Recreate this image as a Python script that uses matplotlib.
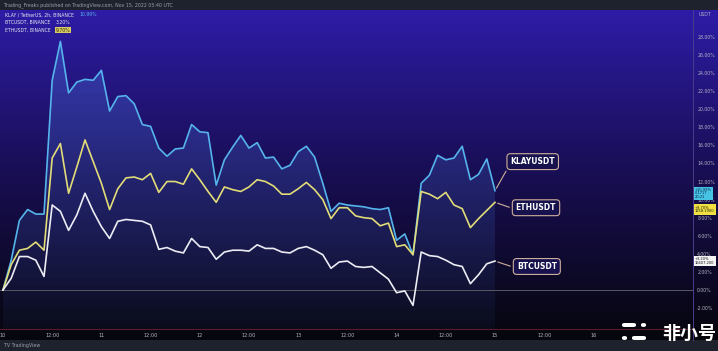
import numpy as np
import matplotlib.pyplot as plt
from matplotlib.patches import Polygon, Rectangle, FancyBboxPatch

# % change since start, one point every 2h (Nov 10 00:00 -> Nov 15 00:00)
klay = [0, 3.3, 7.7, 8.9, 8.4, 8.4, 23.2, 27.5, 21.8, 23.0,
        23.3, 23.2, 24.3, 19.8, 21.4, 21.5, 20.6, 18.3, 18.1, 15.7,
        14.8, 15.6, 15.7, 18.3, 17.5, 17.4, 11.6, 14.4, 15.8, 17.1,
        15.7, 16.3, 14.6, 14.7, 13.4, 13.8, 15.3, 15.9, 14.7, 11.8,
        8.7, 9.6, 9.4, 9.3, 9.2, 9.0, 8.9, 9.1, 5.5, 6.2,
        3.9, 11.8, 12.7, 14.9, 14.4, 14.6, 15.9, 12.2, 12.8, 14.5, 10.99]
eth = [0, 2.8, 4.4, 4.6, 5.3, 4.4, 14.6, 16.2, 10.7, 13.6,
       16.6, 14.2, 11.8, 8.9, 11.2, 12.4, 12.5, 12.2, 12.9, 10.8,
       12.0, 12.0, 11.7, 13.4, 12.2, 10.9, 9.7, 11.4, 11.1, 10.9,
       11.4, 12.2, 12.0, 11.5, 10.6, 10.6, 11.2, 11.9, 11.1, 10.0,
       7.9, 9.1, 9.1, 8.2, 8.0, 7.9, 7.1, 7.4, 4.8, 5.0,
       3.9, 10.9, 10.6, 10.1, 10.8, 9.4, 9.0, 6.9, 7.9, 8.8, 9.70]
btc = [0, 1.3, 3.7, 3.7, 3.3, 1.5, 9.4, 8.7, 6.6, 8.3,
       10.7, 8.7, 7.0, 5.7, 7.6, 7.8, 7.7, 7.6, 7.2, 4.5,
       4.7, 4.3, 4.1, 5.7, 4.8, 4.7, 3.4, 4.2, 4.4, 4.4,
       4.3, 5.0, 4.6, 4.6, 4.2, 4.1, 4.6, 4.8, 4.4, 3.9,
       2.4, 3.1, 3.2, 2.6, 2.5, 2.6, 1.9, 1.2, -0.3, -0.1,
       -1.7, 4.2, 3.8, 3.7, 3.3, 2.8, 2.6, 0.7, 1.7, 2.9, 3.20]

tick_pos = list(range(0, 73, 6))
tick_lab = ['10', '12:00', '11', '12:00', '12', '12:00', '13', '12:00',
            '14', '12:00', '15', '12:00', '16']
yticks = list(range(-2, 29, 2))

names = ['KLAYUSDT', 'ETHUSDT', 'BTCUSDT']
cols = ['#55b4ec', '#e2dc78', '#ececf4']

W, H = 718, 351
fig = plt.figure(figsize=(W / 100, H / 100), dpi=100)
fig.patch.set_facecolor('#07070d')

# background gradient of the chart panel
bg = fig.add_axes([0, 11 / H, 1, 330 / H])
t = np.linspace(0, 1, 256)[:, None]
top = np.array([46, 28, 166]) / 255
mid = np.array([24, 14, 82]) / 255
bot = np.array([6, 6, 12]) / 255
grad = np.where(t < 0.5, top + (mid - top) * (t / 0.5), mid + (bot - mid) * ((t - 0.5) / 0.5))
grad = np.repeat(grad[:, None, :], 2, axis=1)
bg.imshow(grad, aspect='auto', extent=[0, 1, 0, 1])
bg.axis('off')

# top and bottom strips
fig.patches.append(Rectangle((0, 1 - 10 / H), 1, 10 / H, transform=fig.transFigure, fc='#1e222d', ec='none'))
fig.patches.append(Rectangle((0, 0), 1, 11 / H, transform=fig.transFigure, fc='#1e222d', ec='none'))
fig.text(4 / W, 1 - 5 / H, 'Trading_Freaks published on TradingView.com, Nov 15, 2022 05:40 UTC',
         color='#9a9eaa', fontsize=3.4, va='center')
fig.text(4 / W, 5 / H, 'TV TradingView', color='#9a9eaa', fontsize=3.4, va='center')

# main axes (px: x 0..693, y 10..329)
ax = fig.add_axes([0, (H - 329) / H, 693 / W, 319 / H])
ax.set_facecolor('none')
x = np.arange(len(klay))
px0, dx = 3, 8.2
xlim = ((0 - px0) / dx, (693 - px0) / dx)
y0, dy = 290, 9.04
ylim = ((y0 - 329) / dy, (y0 - 10) / dy)

# gradient fill under KLAY
poly = Polygon([(0, ylim[0])] + list(zip(x, klay)) + [(x[-1], ylim[0])],
               closed=True, fc='none', ec='none')
ax.add_patch(poly)
ft = np.linspace(0, 1, 256)[:, None]
fill = np.zeros((256, 2, 4))
fill[..., 0], fill[..., 1], fill[..., 2] = 0.33, 0.52, 0.95
fill[..., 3] = (0.32 * (1 - ft) + 0.05 * ft)
im = ax.imshow(fill, aspect='auto', extent=[0, x[-1], ylim[0], max(klay)], origin='upper', zorder=1)
im.set_clip_path(poly)

ax.axhline(0, color='#5a5a66', lw=0.7, zorder=1)
ax.plot(x, klay, color=cols[0], lw=1.2, zorder=3)
ax.plot(x, eth, color=cols[1], lw=1.2, zorder=3)
ax.plot(x, btc, color=cols[2], lw=1.2, zorder=3)

ax.set_xlim(*xlim)
ax.set_ylim(*ylim)
for s in ['top', 'left', 'right']:
    ax.spines[s].set_visible(False)
ax.spines['bottom'].set_color('#5a1c2c')
ax.spines['bottom'].set_linewidth(0.8)
ax.set_xticks(tick_pos)
ax.set_xticklabels(tick_lab)
ax.tick_params(axis='x', colors='#b4b4c4', labelsize=3.6, length=0, pad=3)
ax.yaxis.tick_right()
ax.set_yticks(yticks)
ax.set_yticklabels([f'{v:.2f}%' for v in yticks])
ax.tick_params(axis='y', colors='#b4b4c4', labelsize=3.3, length=0, pad=3)
fig.lines.append(plt.Line2D([693 / W, 693 / W], [11 / H, 1 - 10 / H], transform=fig.transFigure,
                            color='#4a3c8c', lw=0.7))
fig.text(705 / W, 1 - 15 / H, 'USDT', color='#b4b4c4', fontsize=3.3, ha='center', va='center')

# callout labels at the end of each line
ends = [klay[-1], eth[-1], btc[-1]]
boxes = [(64.6, 14.2), (65.0, 9.1), (65.1, 2.6)]
for n, e, (bx, by) in zip(names, ends, boxes):
    ax.annotate(n, xy=(x[-1], e), xytext=(bx, by), color='white', fontsize=5.5, fontweight='bold',
                ha='center', va='center', zorder=5,
                bbox=dict(boxstyle='round,pad=0.45', fc='#17124e', ec='#cfae9c', lw=0.8),
                arrowprops=dict(arrowstyle='-', color='#cfae9c', lw=0.8, relpos=(0, 0.3)))

# legend text top-left
leg = [('KLAY / TetherUS, 2h, BINANCE', '10.99%', '#55b4ec', 'none'),
       ('BTCUSDT, BINANCE', '3.20%', '#e0e0ea', 'none'),
       ('ETHUSDT, BINANCE', '9.70%', '#2a2410', '#d8cc60')]
fig.canvas.draw()
rend = fig.canvas.get_renderer()
for k, (lab, val, c, hc) in enumerate(leg):
    yy = 1 - (15 + 7.5 * k) / H
    txt = fig.text(5 / W, yy, lab, color='#e6e6f0', fontsize=3.3, va='center')
    x1 = txt.get_window_extent(rend).x1
    kw = {}
    if hc != 'none':
        kw['bbox'] = dict(boxstyle='square,pad=0.15', fc=hc, ec='none')
    fig.text((x1 + 5) / W, yy, val, color=c, fontsize=3.3, va='center', **kw)

# price tags on the right axis
tags = [('+10.99%\n0.1717\n20:21', 193.5, '#45c4e4', '#10204a'),
        ('+9.70%\n1258.1900', 209.5, '#f0e040', '#202010'),
        ('+3.20%\n16607.200', 261, '#f4f4f4', '#101018')]
for s, yp, fc, tc in tags:
    fig.text(695 / W, 1 - yp / H, s, color=tc, fontsize=2.6, va='center', ha='left', linespacing=0.95,
             bbox=dict(boxstyle='square,pad=0.3', fc=fc, ec='none'))

# watermark
fig.text(689 / W, 1 - 333 / H, '非小号', color='white', fontsize=13, ha='center', va='center',
         family=['Noto Sans CJK SC', 'DejaVu Sans'], fontweight='bold')
for (bx, by, bw, bh) in [(622, 323, 14, 4), (641, 323, 5, 4), (622, 336, 5, 4), (632, 336, 14, 4)]:
    fig.patches.append(FancyBboxPatch((bx / W, 1 - (by + bh) / H), bw / W, bh / H,
                                      boxstyle='round,pad=0,rounding_size=0.004',
                                      transform=fig.transFigure, fc='white', ec='none'))

fig.savefig('out.png', dpi=100, facecolor=fig.get_facecolor())
